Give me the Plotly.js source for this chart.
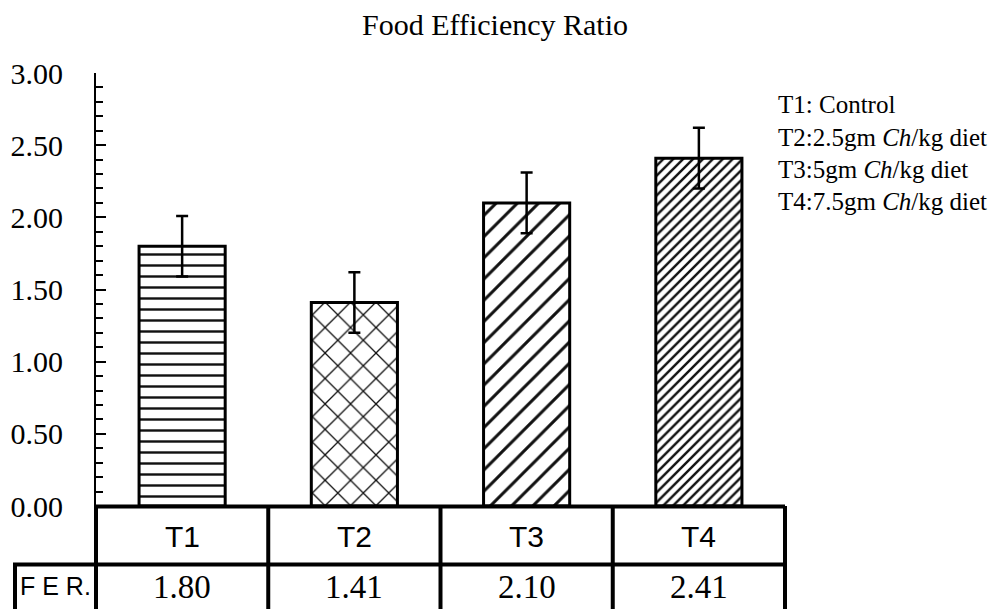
<!DOCTYPE html>
<html>
<head>
<meta charset="utf-8">
<script src="https://cdn.plot.ly/plotly-3.0.1.min.js"></script>
<style>html,body{margin:0;padding:0;background:#fff;}#chart{width:1000px;height:609px;}</style>
</head>
<body>
<div id="chart"></div>
<script>
// ---- data ----
const categories = ['T1', 'T2', 'T3', 'T4'];
const ferValues = [1.80, 1.41, 2.10, 2.41];
const errValues = [0.21, 0.21, 0.21, 0.21];
const valueLabels = ['1.80', '1.41', '2.10', '2.41'];
const rowLabel = 'F E R.';
const titleText = 'Food Efficiency Ratio';
const legendLines = [
  'T1: Control',
  'T2:2.5gm <i>Ch</i>/kg diet',
  'T3:5gm <i>Ch</i>/kg diet',
  'T4:7.5gm <i>Ch</i>/kg diet'
];
const yTickVals = [0, 0.5, 1, 1.5, 2, 2.5, 3];

// ---- styling ----
const serif = 'Liberation Serif';
const sans = 'Liberation Sans';
const patShapes = ['-', 'x', '/', '/'];
const patSizes = [11, 18, 15, 7];
const patSolid = [0.22, 0.14, 0.2, 0.35];

// plot geometry (pixels)
const L = 96, R = 785, T = 73, B = 506, H = 609;
const ph = B - T;
const py = Y => (B - Y) / ph;
const px = X => (X - L) / (R - L);

const trace = {
  type: 'bar',
  x: categories,
  y: ferValues,
  marker: {
    color: 'white',
    line: {color: 'black', width: 3},
    pattern: {shape: patShapes, size: patSizes, solidity: patSolid, fgcolor: '#111', bgcolor: 'white', fillmode: 'replace'}
  },
  error_y: {type: 'data', array: errValues, visible: true, color: 'black', thickness: 2.5, width: 6},
  hoverinfo: 'skip',
  showlegend: false
};

const shapes = [];
const lineStyle = {color: 'black', width: 4};
// table top line
shapes.push({type: 'line', xref: 'paper', yref: 'paper', x0: 0, x1: 1, y0: py(506.5), y1: py(506.5), line: lineStyle});
// row separator
shapes.push({type: 'line', xref: 'paper', yref: 'paper', x0: px(13), x1: 1, y0: py(564.5), y1: py(564.5), line: lineStyle});
// column lines
for (let i = 0; i <= categories.length; i++) {
  const xp = i / categories.length;
  shapes.push({type: 'line', xref: 'paper', yref: 'paper', x0: xp, x1: xp, y0: py(506), y1: py(620), line: lineStyle});
}
// FER cell left border
shapes.push({type: 'line', xref: 'paper', yref: 'paper', x0: px(15), x1: px(15), y0: py(563), y1: py(620), line: lineStyle});

const annotations = [];
categories.forEach((c, i) => {
  annotations.push({xref: 'x', yref: 'paper', x: c, y: py(536), text: c, showarrow: false,
    xanchor: 'center', yanchor: 'middle', font: {family: sans, size: 30, color: 'black'}});
  annotations.push({xref: 'x', yref: 'paper', x: c, y: py(587), text: valueLabels[i], showarrow: false,
    xanchor: 'center', yanchor: 'middle', font: {family: serif, size: 33, color: 'black'}});
});
annotations.push({xref: 'paper', yref: 'paper', x: px(18), y: py(586), text: rowLabel, showarrow: false,
  xanchor: 'left', yanchor: 'middle', font: {family: sans, size: 25, color: 'black'}});
const legendY = [104, 137.5, 169, 201];
legendLines.forEach((t, i) => {
  annotations.push({xref: 'paper', yref: 'paper', x: px(776), y: py(legendY[i]), text: t, showarrow: false,
    xanchor: 'left', yanchor: 'middle', font: {family: serif, size: 25, color: 'black'}});
});

const layout = {
  width: 1000, height: H,
  margin: {l: L, r: 1000 - R, t: T, b: H - B, pad: 0},
  paper_bgcolor: 'white', plot_bgcolor: 'white',
  title: {text: titleText, x: 0.495, xanchor: 'center', y: 1 - 24 / H, yanchor: 'middle', yref: 'container',
    font: {family: serif, size: 30, color: 'black'}},
  bargap: 0.5,
  xaxis: {type: 'category', range: [-0.5, 3.5], showticklabels: false, ticks: '', showline: false, showgrid: false, zeroline: false, fixedrange: true},
  yaxis: {range: [0, 3], tickvals: yTickVals, tickformat: '.2f', ticks: 'inside', ticklen: 10, tickwidth: 2, tickcolor: 'black',
    showline: true, linewidth: 2, linecolor: 'black', showgrid: false, zeroline: false, ticklabelstandoff: 25,
    tickfont: {family: serif, size: 30, color: 'black'},
    minor: {dtick: 0.1, ticks: 'inside', ticklen: 7, tickwidth: 2, tickcolor: 'black', showgrid: false}, fixedrange: true},
  shapes: shapes,
  annotations: annotations
};

Plotly.newPlot('chart', [trace], layout, {staticPlot: true, displayModeBar: false});
</script>
</body>
</html>
